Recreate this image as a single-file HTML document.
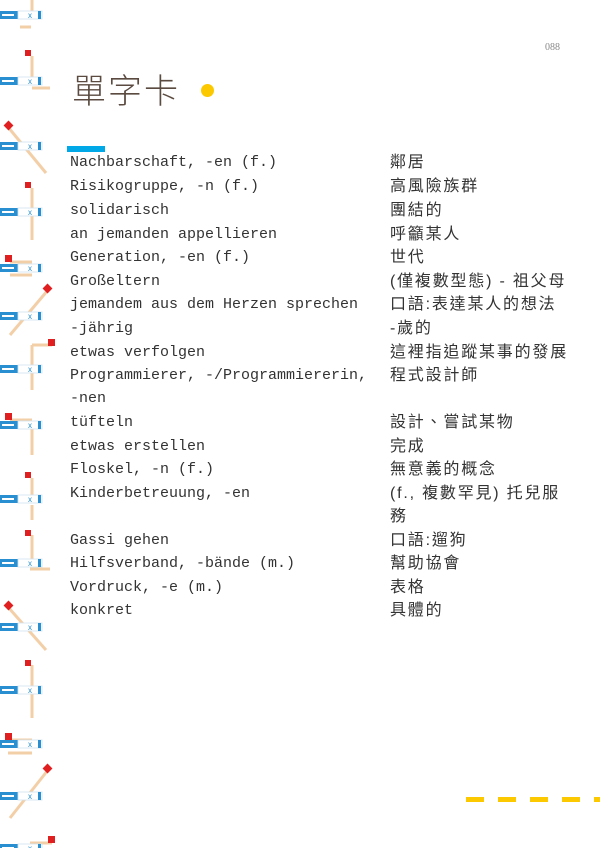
<!DOCTYPE html>
<html><head><meta charset="utf-8"><style>
body{margin:0;width:600px;height:848px;background:#fff;position:relative;overflow:hidden;font-family:"Liberation Mono","Noto Serif CJK SC",monospace;color:#333}
.t{position:absolute;font-size:15px;line-height:18px;white-space:nowrap}
.c{position:absolute;left:390px;font-family:"Liberation Sans","Noto Sans CJK TC",sans-serif;font-size:16px;letter-spacing:1.8px;line-height:18px;white-space:nowrap;color:#333}
</style></head><body>
<svg width="60" height="848" style="position:absolute;left:0;top:0">
<defs>
<g id="b"><rect x="0" y="-4" width="18" height="8" fill="#2a8fd0"/><rect x="2" y="-1" width="12" height="2" fill="#fff"/><rect x="18" y="-4" width="24" height="8" fill="#fff" stroke="#cfe3f2" stroke-width="0.8"/><text x="28" y="3" font-size="8" fill="#2a8fd0" font-family="Liberation Sans">x</text><rect x="38" y="-4" width="3" height="8" fill="#2a8fd0"/></g>
</defs>
<g stroke="#f3cfa8" stroke-width="3" fill="none">
<line x1="32" y1="0" x2="32" y2="12"/><line x1="20" y1="27" x2="31" y2="27"/>
<line x1="32" y1="56" x2="32" y2="80"/><line x1="32" y1="88" x2="50" y2="88"/>
<line x1="8" y1="127" x2="46" y2="173"/>
<line x1="32" y1="188" x2="32" y2="210"/><line x1="32" y1="214" x2="32" y2="240"/>
<line x1="10" y1="262" x2="32" y2="262"/><line x1="10" y1="275" x2="32" y2="275"/>
<line x1="48" y1="290" x2="10" y2="335"/>
<line x1="32" y1="345" x2="52" y2="345"/><line x1="32" y1="345" x2="32" y2="390"/>
<line x1="10" y1="420" x2="32" y2="420"/><line x1="32" y1="425" x2="32" y2="455"/>
<line x1="32" y1="478" x2="32" y2="499"/><line x1="32" y1="505" x2="32" y2="520"/>
<line x1="32" y1="535" x2="32" y2="562"/><line x1="30" y1="569" x2="50" y2="569"/>
<line x1="8" y1="607" x2="46" y2="650"/>
<line x1="32" y1="665" x2="32" y2="690"/><line x1="32" y1="694" x2="32" y2="718"/>
<line x1="10" y1="740" x2="32" y2="740"/><line x1="8" y1="753" x2="32" y2="753"/>
<line x1="48" y1="770" x2="10" y2="818"/>
<line x1="30" y1="843" x2="52" y2="843"/>
</g>
<g fill="#e02020">
<rect x="25" y="50" width="6" height="6"/><rect x="5" y="122" width="7" height="7" transform="rotate(45 8.5 125.5)"/>
<rect x="25" y="182" width="6" height="6"/><rect x="5" y="255" width="7" height="7"/>
<rect x="44" y="285" width="7" height="7" transform="rotate(45 47.5 288.5)"/>
<rect x="48" y="339" width="7" height="7"/><rect x="5" y="413" width="7" height="7"/>
<rect x="25" y="472" width="6" height="6"/><rect x="25" y="530" width="6" height="6"/>
<rect x="5" y="602" width="7" height="7" transform="rotate(45 8.5 605.5)"/>
<rect x="25" y="660" width="6" height="6"/><rect x="5" y="733" width="7" height="7"/>
<rect x="44" y="765" width="7" height="7" transform="rotate(45 47.5 768.5)"/><rect x="48" y="836" width="7" height="7"/>
</g>
<use href="#b" y="15"/><use href="#b" y="81"/><use href="#b" y="146"/><use href="#b" y="212"/><use href="#b" y="268"/><use href="#b" y="316"/><use href="#b" y="369"/><use href="#b" y="425"/><use href="#b" y="499"/><use href="#b" y="563"/><use href="#b" y="627"/><use href="#b" y="690"/><use href="#b" y="744"/><use href="#b" y="796"/><use href="#b" y="848"/>
</svg>
<div style="position:absolute;left:545px;top:42px;font-family:'Liberation Serif',serif;font-size:10px;color:#888">088</div>
<div style="position:absolute;left:72px;top:72px;font-family:'Liberation Sans','Noto Sans CJK TC',sans-serif;font-size:34px;font-weight:300;color:#5a4a40;letter-spacing:2px;line-height:40px">單字卡</div>
<div style="position:absolute;left:201px;top:84px;width:13px;height:13px;border-radius:50%;background:#fcc800"></div>
<div style="position:absolute;left:67px;top:146px;width:38px;height:6px;background:#00a8e8"></div>
<div style="position:absolute;left:466px;top:797px;width:134px;height:5px;background:repeating-linear-gradient(90deg,#fcc800 0 18px,transparent 18px 32px)"></div>

<div class="t" style="left:70px;top:154px">Nachbarschaft, -en (f.)</div><div class="c" style="top:154px">鄰居</div>
<div class="t" style="left:70px;top:178px">Risikogruppe, -n (f.)</div><div class="c" style="top:178px">高風險族群</div>
<div class="t" style="left:70px;top:202px">solidarisch</div><div class="c" style="top:202px">團結的</div>
<div class="t" style="left:70px;top:226px">an jemanden appellieren</div><div class="c" style="top:226px">呼籲某人</div>
<div class="t" style="left:70px;top:249px">Generation, -en (f.)</div><div class="c" style="top:249px">世代</div>
<div class="t" style="left:70px;top:273px">Großeltern</div><div class="c" style="top:273px">(僅複數型態) - 祖父母</div>
<div class="t" style="left:70px;top:296px">jemandem aus dem Herzen sprechen</div><div class="c" style="top:296px">口語:表達某人的想法</div>
<div class="t" style="left:70px;top:320px">-jährig</div><div class="c" style="top:320px">-歲的</div>
<div class="t" style="left:70px;top:344px">etwas verfolgen</div><div class="c" style="top:344px">這裡指追蹤某事的發展</div>
<div class="t" style="left:70px;top:367px">Programmierer, -/Programmiererin,</div><div class="c" style="top:367px">程式設計師</div>
<div class="t" style="left:70px;top:390px">-nen</div>
<div class="t" style="left:70px;top:414px">tüfteln</div><div class="c" style="top:414px">設計、嘗試某物</div>
<div class="t" style="left:70px;top:438px">etwas erstellen</div><div class="c" style="top:438px">完成</div>
<div class="t" style="left:70px;top:461px">Floskel, -n (f.)</div><div class="c" style="top:461px">無意義的概念</div>
<div class="t" style="left:70px;top:485px">Kinderbetreuung, -en</div><div class="c" style="top:485px">(f., 複數罕見) 托兒服</div>
<div class="c" style="top:508px">務</div>
<div class="t" style="left:70px;top:532px">Gassi gehen</div><div class="c" style="top:532px">口語:遛狗</div>
<div class="t" style="left:70px;top:555px">Hilfsverband, -bände (m.)</div><div class="c" style="top:555px">幫助協會</div>
<div class="t" style="left:70px;top:579px">Vordruck, -e (m.)</div><div class="c" style="top:579px">表格</div>
<div class="t" style="left:70px;top:602px">konkret</div><div class="c" style="top:602px">具體的</div>
</body></html>
